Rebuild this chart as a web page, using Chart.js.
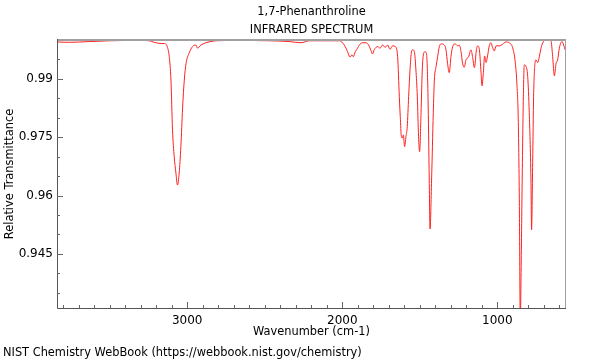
<!DOCTYPE html>
<html>
<head>
<meta charset="utf-8">
<script src="https://cdn.jsdelivr.net/npm/chart.js@4"></script>
<style>
  html, body { margin: 0; padding: 0; background: #fff; }
  #wrap { width: 600px; height: 360px; position: relative; }
</style>
</head>
<body>
<div id="wrap"><canvas id="ir-chart" width="600" height="360"></canvas></div>
<script>
const compoundName = '1,7-Phenanthroline';
const chartTitle = 'INFRARED SPECTRUM';
const xTitle = 'Wavenumber (cm-1)';
const yTitle = 'Relative Transmittance';
const footer = 'NIST Chemistry WebBook (https://webbook.nist.gov/chemistry)';

// wavenumber (cm-1)
const wavenumbers = [
  3839, 3761, 3632, 3503, 3310, 3245, 3213, 3168, 3148, 3127,
  3116, 3105, 3095, 3084, 3073, 3063, 3052, 3041, 3030, 3019,
  3008, 2987, 2966, 2944, 2934, 2912, 2879, 2815, 2665, 2471,
  2342, 2266, 2213, 2084, 2019, 1987, 1966, 1950, 1937, 1929,
  1916, 1901, 1890, 1869, 1847, 1830, 1815, 1805, 1794, 1772,
  1757, 1740, 1723, 1708, 1692, 1675, 1658, 1643, 1632, 1626,
  1619, 1613, 1606, 1598, 1589, 1581, 1572, 1563, 1555, 1546,
  1535, 1525, 1516, 1508, 1501, 1492, 1484, 1475, 1465, 1456,
  1447, 1439, 1434, 1424, 1413, 1406, 1395, 1385, 1374, 1363,
  1342, 1331, 1321, 1310, 1299, 1288, 1271, 1256, 1245, 1234,
  1224, 1213, 1202, 1185, 1170, 1159, 1148, 1142, 1137, 1127,
  1116, 1105, 1099, 1090, 1082, 1073, 1063, 1052, 1041, 1030,
  1019, 1008, 987, 966, 944, 923, 901, 884, 873, 865,
  858, 852, 845, 841, 832, 826, 815, 804, 794, 783,
  779, 772, 766, 757, 750, 740, 729, 718, 708, 686,
  654, 643, 632, 621, 611, 600, 583, 572, 563
];

// relative transmittance at each wavenumber
const transmittance = [
  0.9995, 0.9994, 0.9996, 0.9998, 0.9999, 0.9998, 0.9994, 0.9991, 0.9991, 0.9981,
  0.9957, 0.9897, 0.9769, 0.9700, 0.9658, 0.9627, 0.9658, 0.9726, 0.9825, 0.9897,
  0.9939, 0.9967, 0.9983, 0.9987, 0.9979, 0.9987, 0.9993, 0.9998, 0.9999, 0.9998,
  0.9996, 0.9993, 0.9998, 0.9998, 0.9998, 0.9987, 0.9970, 0.9956, 0.9962, 0.9957,
  0.9970, 0.9979, 0.9987, 0.9993, 0.9993, 0.9987, 0.9973, 0.9964, 0.9975, 0.9983,
  0.9979, 0.9987, 0.9981, 0.9987, 0.9976, 0.9985, 0.9983, 0.9957, 0.9854, 0.9803,
  0.9752, 0.9748, 0.9756, 0.9726, 0.9752, 0.9777, 0.9854, 0.9923, 0.9966, 0.9975,
  0.9970, 0.9923, 0.9854, 0.9752, 0.9713, 0.9813, 0.9923, 0.9966, 0.9970, 0.9962,
  0.9854, 0.9640, 0.9514, 0.9640, 0.9813, 0.9897, 0.9932, 0.9957, 0.9983, 0.9990,
  0.9987, 0.9975, 0.9940, 0.9916, 0.9957, 0.9983, 0.9990, 0.9985, 0.9987, 0.9970,
  0.9940, 0.9930, 0.9949, 0.9957, 0.9975, 0.9955, 0.9929, 0.9944, 0.9968, 0.9985,
  0.9976, 0.9916, 0.9882, 0.9916, 0.9959, 0.9942, 0.9959, 0.9985, 0.9993, 0.9980,
  0.9972, 0.9985, 0.9985, 0.9989, 0.9995, 0.9993, 0.9980, 0.9942, 0.9882, 0.9797,
  0.9589, 0.9280, 0.9460, 0.9597, 0.9854, 0.9936, 0.9932, 0.9906, 0.9813, 0.9640,
  0.9512, 0.9684, 0.9854, 0.9940, 0.9949, 0.9942, 0.9957, 0.9979, 0.9992, 1.0000,
  0.9998, 0.9957, 0.9908, 0.9940, 0.9949, 0.9979, 0.9996, 0.9987, 0.9975
];

const xRange = [557, 3840];
const yRange = [0.9311, 1.0];
const xMajorTicks = [1000, 2000, 3000];
const yMajorTicks = [0.945, 0.96, 0.975, 0.99];

const FONT = '"DejaVu Sans", sans-serif';

function minorTicks(from, to, step) {
  const out = [];
  const n0 = Math.ceil(from / step - 1e-9);
  const n1 = Math.floor(to / step + 1e-9);
  for (let n = n0; n <= n1; n++) out.push(+(n * step).toFixed(4));
  return out;
}

function isMajor(list, v) {
  return list.some(m => Math.abs(m - v) < 1e-6);
}

// inward tick marks, frame and all free text
const decorPlugin = {
  id: 'decor',
  afterDatasetsDraw(chart) {
    const ctx = chart.ctx;
    const a = chart.chartArea;
    const xs = chart.scales.x;
    const ys = chart.scales.y;
    ctx.save();

    // frame
    ctx.strokeStyle = '#a0a0a0';
    ctx.lineWidth = 2;
    ctx.beginPath();
    ctx.moveTo(a.left, a.top);
    ctx.lineTo(a.right, a.top);
    ctx.stroke();
    ctx.lineWidth = 1;
    ctx.beginPath();
    ctx.moveTo(a.right - 0.5, a.top);
    ctx.lineTo(a.right - 0.5, a.bottom);
    ctx.stroke();

    ctx.strokeStyle = '#555';
    ctx.beginPath();
    ctx.moveTo(a.left + 0.5, a.top - 1);
    ctx.lineTo(a.left + 0.5, a.bottom + 0.5);
    ctx.lineTo(a.right, a.bottom + 0.5);
    ctx.stroke();

    // ticks
    ctx.strokeStyle = '#666';
    ctx.beginPath();
    xs.ticks.forEach(t => {
      const px = Math.round(xs.getPixelForValue(t.value)) + 0.5;
      const len = isMajor(xMajorTicks, t.value) ? 6 : 3;
      ctx.moveTo(px, a.bottom);
      ctx.lineTo(px, a.bottom - len);
    });
    ys.ticks.forEach(t => {
      if (t.value >= yRange[1] - 1e-6) return;
      const py = Math.round(ys.getPixelForValue(t.value)) + 0.5;
      const len = isMajor(yMajorTicks, t.value) ? 6 : 3;
      ctx.moveTo(a.left, py);
      ctx.lineTo(a.left + len, py);
    });
    ctx.stroke();

    // text
    ctx.fillStyle = '#000';
    ctx.font = '11.4px ' + FONT;
    ctx.textAlign = 'center';
    ctx.textBaseline = 'middle';
    const cx = (a.left + a.right) / 2;
    ctx.fillText(compoundName, cx, 12);
    ctx.fillText(chartTitle, cx, 30);
    ctx.fillText(xTitle, cx, 332);

    ctx.save();
    ctx.translate(10, (a.top + a.bottom) / 2);
    ctx.rotate(-Math.PI / 2);
    ctx.fillText(yTitle, 0, 0);
    ctx.restore();

    ctx.textAlign = 'left';
    ctx.fillText(footer, 3, 353);
    ctx.restore();
  }
};

const ctx = document.getElementById('ir-chart');
new Chart(ctx, {
  type: 'line',
  data: {
    datasets: [{
      data: wavenumbers.map((w, i) => ({ x: w, y: transmittance[i] })),
      borderColor: '#ff2020',
      borderWidth: 1,
      pointRadius: 0,
      fill: false,
      cubicInterpolationMode: 'monotone'
    }]
  },
  options: {
    responsive: false,
    animation: false,
    devicePixelRatio: 1,
    layout: { padding: { top: 40, right: 34, left: 0, bottom: 0 } },
    plugins: { legend: { display: false }, tooltip: { enabled: false } },
    scales: {
      x: {
        type: 'linear',
        reverse: true,
        min: xRange[0],
        max: xRange[1],
        afterBuildTicks: s => { s.ticks = minorTicks(xRange[0], xRange[1], 100).map(v => ({ value: v })); },
        afterFit: s => { s.height = 52; },
        grid: { display: false, drawTicks: false },
        border: { display: false },
        ticks: {
          autoSkip: false,
          maxRotation: 0,
          padding: 6,
          color: '#000',
          font: { family: FONT, size: 12 },
          callback: v => isMajor(xMajorTicks, v) ? String(v) : ''
        }
      },
      y: {
        type: 'linear',
        min: yRange[0],
        max: yRange[1],
        afterBuildTicks: s => { s.ticks = minorTicks(yRange[0], yRange[1], 0.005).map(v => ({ value: v })); },
        afterFit: s => { s.width = 57; },
        grid: { display: false, drawTicks: false },
        border: { display: false },
        ticks: {
          autoSkip: false,
          padding: 4,
          color: '#000',
          font: { family: FONT, size: 12 },
          callback: v => isMajor(yMajorTicks, v) ? String(v) : ''
        }
      }
    }
  },
  plugins: [decorPlugin]
});
</script>
</body>
</html>
